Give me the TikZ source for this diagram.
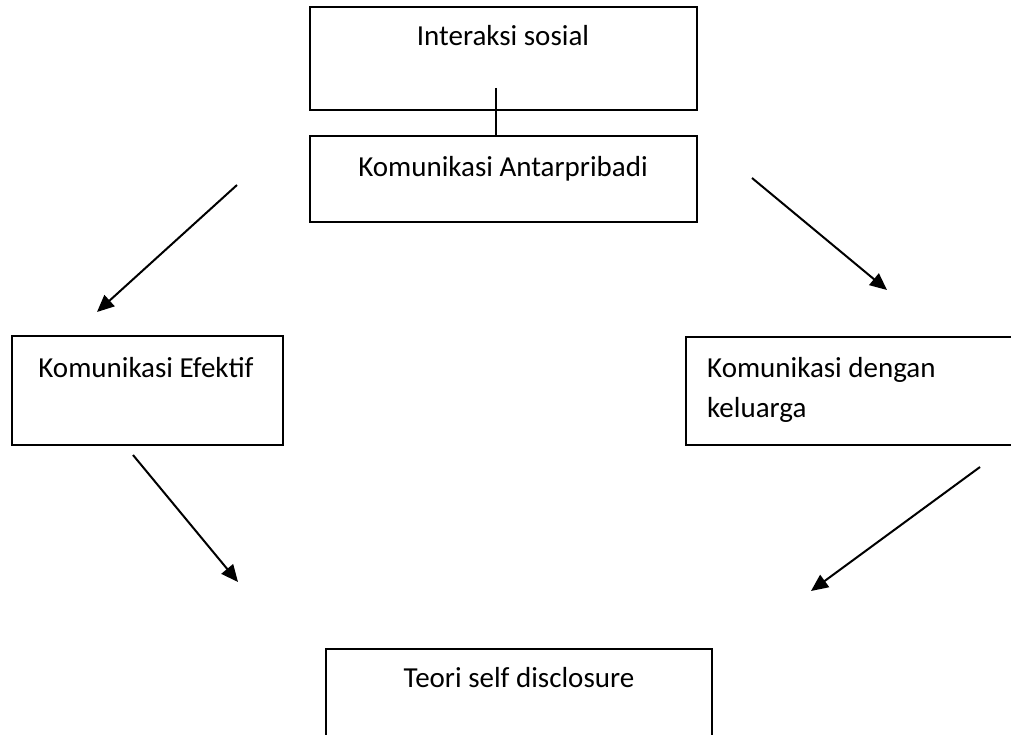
\documentclass[tikz,border=0pt]{standalone}
\usepackage{fontspec}
\setmainfont{Carlito}
\usetikzlibrary{arrows.meta}
\begin{document}
\begin{tikzpicture}[x=1pt,y=-1pt,
  box/.style={draw=black,line width=1.6pt,rectangle,inner sep=0pt,outer sep=0pt},
  txt/.style={font=\fontsize{29}{36}\selectfont,inner sep=0pt,anchor=base},
  ln/.style={line width=2pt},
  arr/.style={line width=2pt,-{Triangle[length=17pt,width=15pt]}}]
\useasboundingbox (0,0) rectangle (1011,735);
\clip (0,0) rectangle (1011,735);
% boxes
\node[box,minimum width=387pt,minimum height=103pt] (b1) at (503.5,58.5) {};
\node[box,minimum width=387pt,minimum height=86pt] (b2) at (503.5,179) {};
\node[box,minimum width=271pt,minimum height=109pt] (b3) at (147.5,390.5) {};
\node[box,minimum width=344pt,minimum height=108pt] (b4) at (858,391) {};
\node[box,minimum width=386pt,minimum height=120pt] (b5) at (519,709) {};
% texts
\node[txt] (t1) at (503,46) {Interaksi sosial};
\node[txt] (t2) at (503,177) {Komunikasi Antarpribadi};
\node[txt] (t3) at (146,377) {Komunikasi Efektif};
\node[txt,anchor=base west] (t4) at (707,377) {Komunikasi dengan};
\node[txt,anchor=base west] (t4b) at (707,417) {keluarga};
\node[txt] (t5) at (519,687) {Teori self disclosure};
% connector between top boxes
\coordinate (c0) at (496,88);
\draw[ln] (c0) -- (c0 |- b2.north);
% arrows
\coordinate (a1s) at (237,185); \coordinate (a1e) at (97,312);
\coordinate (a2s) at (752,178); \coordinate (a2e) at (887,290);
\coordinate (a3s) at (133,455); \coordinate (a3e) at (238,582);
\coordinate (a4s) at (980,467); \coordinate (a4e) at (811,591);
\draw[arr] (a1s) -- (a1e);
\draw[arr] (a2s) -- (a2e);
\draw[arr] (a3s) -- (a3e);
\draw[arr] (a4s) -- (a4e);
\end{tikzpicture}
\end{document}
